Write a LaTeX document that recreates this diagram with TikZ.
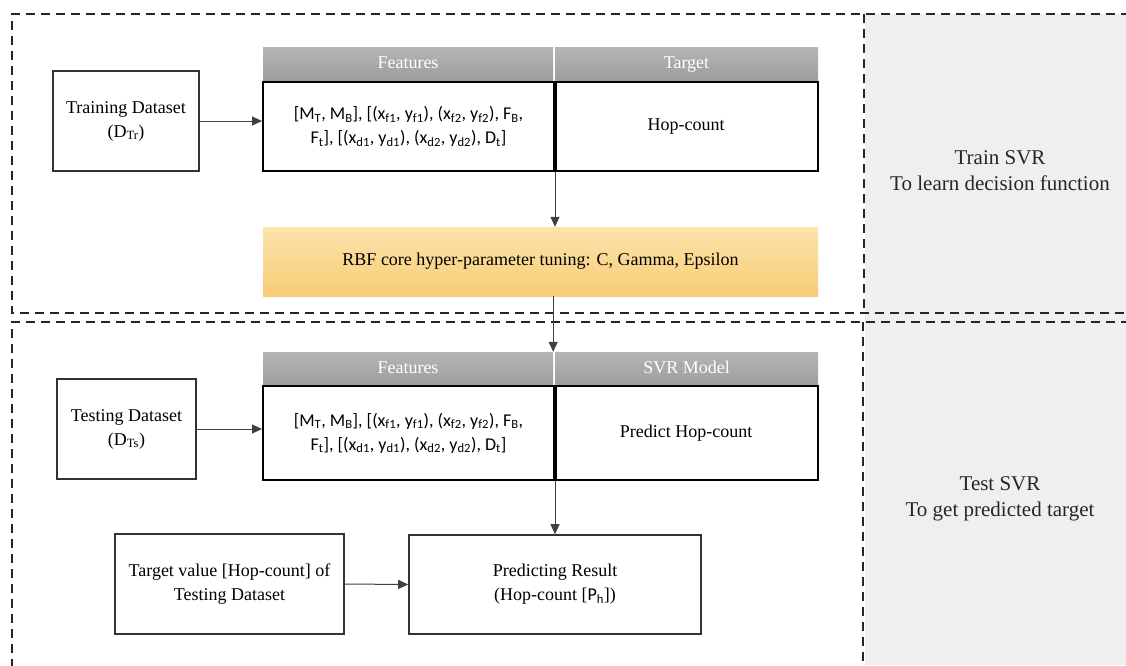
\documentclass[tikz,border=0pt]{standalone}
\usepackage{fontspec}
\setmainfont{Liberation Serif}
\newfontfamily\featfont{Carlito}
\usetikzlibrary{arrows.meta}

\definecolor{panelgray}{HTML}{EFEFEF}
\definecolor{hdtop}{HTML}{B5B5B5}
\definecolor{hdbot}{HTML}{9C9C9C}
\definecolor{ortop}{HTML}{FCE4AC}
\definecolor{orbot}{HTML}{F8CC75}
\definecolor{edge}{HTML}{333333}

\newcommand\basefs{\fontsize{18}{24}\selectfont}
\newcommand\sidefs{\fontsize{21}{26}\selectfont}
\newcommand\sbs[1]{\textsubscript{#1}}
\newcommand\featline{[M\sbs{T}, M\sbs{B}], [(x\sbs{f1}, y\sbs{f1}), (x\sbs{f2}, y\sbs{f2}), F\sbs{B},\\
  F\sbs{t}], [(x\sbs{d1}, y\sbs{d1}), (x\sbs{d2}, y\sbs{d2}), D\sbs{t}]}

\tikzset{
  frame/.style={draw=black!85, line width=2.5pt, dash pattern=on 9pt off 6pt},
  plainbox/.style={draw=edge, line width=1.6pt, fill=white, align=center,
    font=\basefs, inner sep=2pt},
  headcell/.style={top color=hdtop, bottom color=hdbot, draw=none,
    text=white, font=\basefs, inner sep=0pt, minimum height=35pt,
    text height=12pt, text depth=4pt},
  bodycell/.style={draw=black, line width=2pt, fill=white, align=center,
    inner sep=0pt, minimum height=89pt},
  tune/.style={top color=ortop, bottom color=orbot, draw=none, font=\basefs,
    inner sep=0pt},
  link/.style={draw=black!75, line width=1pt, -{Triangle[length=10pt,width=9pt]}},
  sidetext/.style={align=center, font=\sidefs, text=black!85},
}

\begin{document}
\begin{tikzpicture}[x=1pt, y=-1pt]
  \clip (0,0) rectangle (1126,665);
  \fill[white] (0,0) rectangle (1126,665);

  % side panels
  \fill[panelgray] (865,14) rectangle (1126,665);

  % dashed section frames
  \draw[frame] (1130,14) -- (12,14) -- (12,313) -- (1130,313);
  \draw[frame] (864,14) -- (864,313);
  \draw[frame] (1130,322) -- (12,322) -- (12,672);
  \draw[frame] (863,322) -- (863,672);

  % ---------- training stage ----------
  \node[plainbox, minimum width=146pt, minimum height=100pt] (train) at (126,121)
    {Training Dataset\\(D\sbs{Tr})};

  \node[headcell, minimum width=290pt] (feath) at (408,64.5) {Features};
  \node[headcell, minimum width=263pt] (targh) at (686.5,64.5) {Target};

  \node[bodycell, minimum width=291pt, font=\featfont\basefs] (featb) at (408.5,126.5) {\featline};
  \node[bodycell, minimum width=264pt, font=\basefs] (targb) at (686,126.5) {Hop-count};
  \draw[line width=3pt] (featb.north east) -- (featb.south east);

  \node[tune, minimum width=555pt, minimum height=69pt] (tuning) at (540.5,261.5)
    {RBF core hyper-parameter tuning: C, Gamma, Epsilon};

  \node[sidetext] (trainlbl) at (1000,171) {Train SVR\\To learn decision function};

  % ---------- testing stage ----------
  \node[plainbox, minimum width=139pt, minimum height=100pt] (test) at (126.5,429)
    {Testing Dataset\\(D\sbs{Ts})};

  \node[headcell, minimum width=290pt] (feath2) at (408,369.5) {Features};
  \node[headcell, minimum width=263pt] (modelh) at (686.5,369.5) {SVR Model};

  \node[bodycell, minimum width=291pt, minimum height=94pt, font=\featfont\basefs] (featb2) at (408.5,433) {\featline};
  \node[bodycell, minimum width=264pt, minimum height=94pt, font=\basefs] (modelb) at (686,433) {Predict Hop-count};
  \draw[line width=3pt] (featb2.north east) -- (featb2.south east);

  \node[plainbox, minimum width=229pt, minimum height=100pt] (tval) at (229.5,584)
    {Target value [Hop-count] of\\Testing Dataset};
  \node[plainbox, minimum width=292pt, minimum height=99pt] (result) at (555,584.5)
    {Predicting Result\\(Hop-count [{\featfont P\sbs{h}}])};

  \node[sidetext] (testlbl) at (1000,499) {Test SVR\\To get predicted target};

  % ---------- connectors ----------
  \draw[link] (train.east) -- (train.east -| featb.west);
  \draw[link] (featb.south east) -- (featb.south east |- tuning.north);
  \draw[link] (tuning.south -| feath2.north east) -- (feath2.north east);
  \draw[link] (test.east) -- (test.east -| featb2.west);
  \draw[link] (featb2.south east) -- (featb2.south east |- result.north);
  \draw[link] (tval.east) -- (result.west);
\end{tikzpicture}
\end{document}
